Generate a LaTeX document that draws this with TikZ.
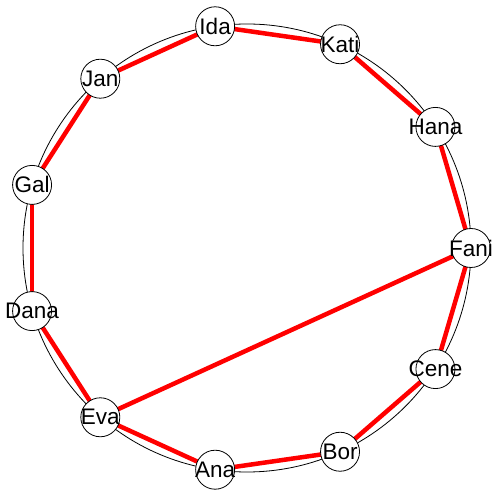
\documentclass[tikz,border=0pt]{standalone}
\usepackage{fontspec}
\setmainfont{Liberation Sans}
\begin{document}
\begin{tikzpicture}[x=1pt,y=1pt,
  person/.style={circle,draw=black,fill=white,line width=0.8pt,minimum size=39pt,inner sep=0pt,font=\fontsize{22.5}{26}\selectfont},
  link/.style={draw=red,line width=4.5pt}]
\useasboundingbox (0,0) rectangle (492,492);
\coordinate (O) at (247,244);
\draw[line width=0.8pt] (O) circle (224);
\foreach \n/\a in {Fani/0,Hana/32.727,Kati/65.455,Ida/98.182,Jan/130.909,Gal/163.636,Dana/196.364,Eva/229.091,Ana/261.818,Bor/294.545,Cene/327.273}{
  \coordinate (p\n) at ([shift={(\a:224)}]O);
}
\foreach \u/\v in {Ida/Kati,Kati/Hana,Hana/Fani,Fani/Cene,Cene/Bor,Bor/Ana,Ana/Eva,Eva/Dana,Dana/Gal,Gal/Jan,Jan/Ida,Fani/Eva}{
  \draw[link] (p\u) -- (p\v);
}
\foreach \n in {Fani,Hana,Kati,Ida,Jan,Gal,Dana,Eva,Ana,Bor,Cene}{
  \node[person] (\n) at (p\n) {\makebox[0pt]{\n}};
}
\end{tikzpicture}
\end{document}
